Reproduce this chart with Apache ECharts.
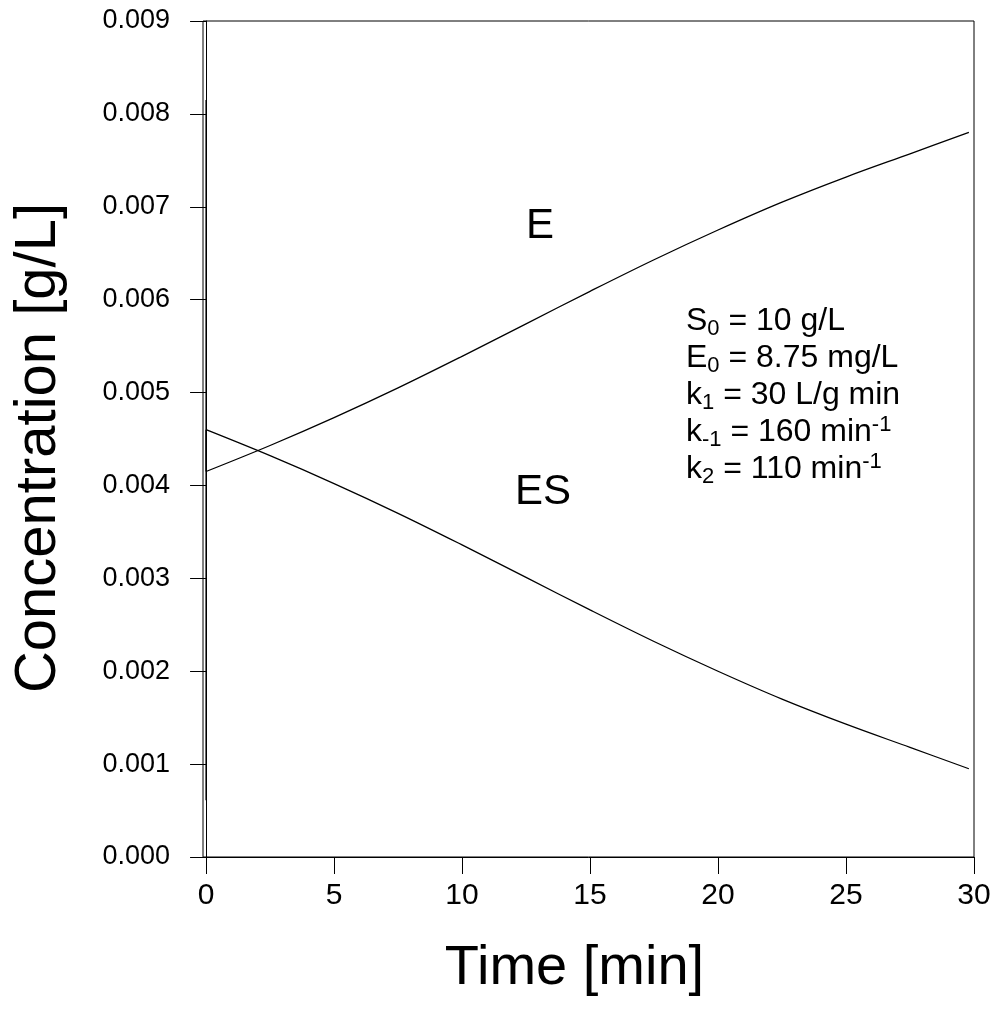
<!DOCTYPE html>
<html>
<head>
<meta charset="utf-8">
<script src="https://cdn.jsdelivr.net/npm/echarts@6/dist/echarts.min.js"></script>
<style>
  html, body { margin: 0; padding: 0; background: #fff; }
  #chart { width: 996px; height: 1016px; }
</style>
</head>
<body>
<div id="chart"></div>
<script>
const FONT = '"Liberation Sans", Arial, Helvetica, sans-serif';

// Time points [min]
const time = [0, 2.5, 5, 7.5, 10, 12.5, 15, 17.5, 20, 22.5, 25, 27.5, 29.8];
// Free enzyme E [g/L]
const enzymeFree = [0.00415, 0.00443, 0.00473, 0.00505, 0.00539, 0.00574, 0.00609,
                    0.00643, 0.00675, 0.00705, 0.00732, 0.00757, 0.00780];
// Enzyme-substrate complex ES [g/L]
const complexES = [0.00460, 0.00432, 0.00402, 0.00370, 0.00336, 0.00301, 0.00266,
                   0.00232, 0.00200, 0.00170, 0.00143, 0.00118, 0.00095];

// Fast pre-steady-state jump at t = 0
const transientTime = [0, 0];
const enzymeTransient = [0.00815, 0.00415];
const complexTransient = [0.00061, 0.00460];

// Axis ticks
const xTickValues = [0, 5, 10, 15, 20, 25, 30];
const xTickLabels = ['0', '5', '10', '15', '20', '25', '30'];
const yTickValues = [0, 0.001, 0.002, 0.003, 0.004, 0.005, 0.006, 0.007, 0.008, 0.009];
const yTickLabels = ['0.000', '0.001', '0.002', '0.003', '0.004', '0.005', '0.006', '0.007', '0.008', '0.009'];

const zip = (xs, ys) => xs.map((x, i) => [x, ys[i]]);

const lineStyle = { color: '#000', width: 1.3 };

const chart = echarts.init(document.getElementById('chart'), null, { renderer: 'canvas' });

chart.setOption({
  backgroundColor: '#fff',
  animation: false,
  grid: {
    left: 203, right: 22, top: 21, bottom: 159,
    show: true, borderColor: '#000', borderWidth: 1, backgroundColor: 'transparent'
  },
  xAxis: {
    type: 'value',
    min: -0.12, max: 30,
    name: 'Time [min]',
    nameLocation: 'middle',
    nameGap: 84,
    nameTextStyle: { fontFamily: FONT, fontSize: 56, color: '#000', padding: [0, 28, 0, 0] },
    axisLine: { show: true, lineStyle: { color: '#000', width: 1 } },
    axisTick: { show: true, inside: false, length: 17, customValues: xTickValues, lineStyle: { color: '#000', width: 1 } },
    axisLabel: {
      customValues: xTickValues,
      formatter: v => xTickLabels[xTickValues.indexOf(v)],
      fontFamily: FONT, fontSize: 30, color: '#000', margin: 24
    },
    splitLine: { show: false }
  },
  yAxis: {
    type: 'value',
    min: 0, max: 0.009,
    name: 'Concentration [g/L]',
    nameLocation: 'middle',
    nameGap: 135,
    nameTextStyle: { fontFamily: FONT, fontSize: 58, color: '#000', padding: [0, 18, 0, 0] },
    axisLine: { show: true, lineStyle: { color: '#000', width: 1 } },
    axisTick: { show: true, inside: false, length: 16, customValues: yTickValues, lineStyle: { color: '#000', width: 1 } },
    axisLabel: {
      customValues: yTickValues,
      formatter: v => yTickLabels[yTickValues.indexOf(v)],
      fontFamily: FONT, fontSize: 27, color: '#000', margin: 33
    },
    splitLine: { show: false }
  },
  series: [
    { name: 'E', type: 'line', data: zip(time, enzymeFree), showSymbol: false,
      smooth: 0.35, lineStyle },
    { name: 'ES', type: 'line', data: zip(time, complexES), showSymbol: false,
      smooth: 0.35, lineStyle },
    { name: 'E (t = 0)', type: 'line', data: zip(transientTime, enzymeTransient), showSymbol: false,
      lineStyle: { color: '#000', width: 1.3 } },
    { name: 'ES (t = 0)', type: 'line', data: zip(transientTime, complexTransient), showSymbol: false,
      lineStyle: { color: '#000', width: 1.3 } }
  ],
  graphic: [
    { type: 'text', x: 540, y: 226,
      style: { text: 'E', font: '42px ' + FONT, fill: '#000', align: 'center', verticalAlign: 'middle' } },
    { type: 'text', x: 543, y: 492,
      style: { text: 'ES', font: '42px ' + FONT, fill: '#000', align: 'center', verticalAlign: 'middle' } },
    { type: 'text', x: 686, y: 303,
      style: {
        text: [
          '{m|S}{sub|0}{m| = 10 g/L}',
          '{m|E}{sub|0}{m| = 8.75 mg/L}',
          '{m|k}{sub|1}{m| = 30 L/g min}',
          '{m|k}{sub|-1}{m| = 160 min}{sup|-1}',
          '{m|k}{sub|2}{m| = 110 min}{sup|-1}'
        ].join('\n'),
        fill: '#000',
        align: 'left',
        verticalAlign: 'top',
        rich: {
          m: { fontFamily: FONT, fontSize: 32, lineHeight: 37, fill: '#000' },
          sub: { fontFamily: FONT, fontSize: 22, lineHeight: 22, verticalAlign: 'bottom', fill: '#000' },
          sup: { fontFamily: FONT, fontSize: 22, lineHeight: 24, verticalAlign: 'top', fill: '#000' }
        }
      } }
  ]
});
</script>
</body>
</html>
